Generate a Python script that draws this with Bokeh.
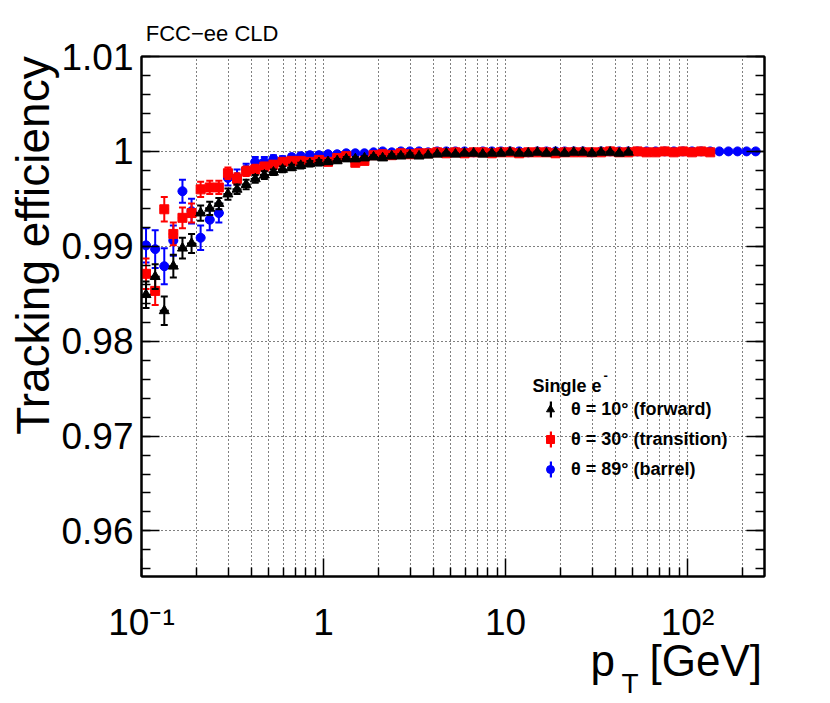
import math
import numpy as np
from bokeh.plotting import figure
from bokeh.models import (ColumnDataSource, Range1d, FixedTicker, LinearAxis, LogAxis,
                          Label, Legend, LegendItem)
from bokeh.embed import file_html
from bokeh.resources import INLINE

# ---------------- data ----------------
pt_bins = [0.1059, 0.1189, 0.1334, 0.1496, 0.1679, 0.1884, 0.2113, 0.2371, 0.2661, 0.2985,
           0.3350, 0.3758, 0.4217, 0.4732, 0.5309, 0.5957, 0.6683, 0.7499, 0.8414, 0.9441,
           1.059, 1.189, 1.334, 1.496, 1.679, 1.884, 2.113, 2.371, 2.661, 2.985,
           3.350, 3.758, 4.217, 4.732, 5.309, 5.957, 6.683, 7.499, 8.414, 9.441,
           10.59, 11.89, 13.34, 14.96, 16.79, 18.84, 21.13, 23.71, 26.61, 29.85,
           33.50, 37.58, 42.17, 47.32, 53.09, 59.57, 66.83, 74.99, 84.14, 94.41,
           105.9, 118.9, 133.4, 149.6, 167.9, 188.4, 211.3, 237.1]

eff_forward = [0.9849, 0.9868, 0.9832, 0.9879, 0.9898, 0.9903, 0.9935, 0.9940, 0.9945, 0.9955,
               0.9960, 0.9965, 0.9971, 0.9975, 0.9978, 0.9981, 0.9983, 0.9985, 0.9987, 0.9988,
               0.9989, 0.9990, 0.9992, 0.9992, 0.9993, 0.9994, 0.9993, 0.9995, 0.9995, 0.9996,
               0.9995, 0.9996, 0.9997, 0.9998, 0.9997, 0.9998, 0.9998, 0.9997, 0.9998, 0.9998,
               0.9999, 0.9998, 0.9998, 0.9999, 0.9998, 0.9999, 0.9998, 0.9999, 0.9999, 0.9998,
               0.9999, 0.9999, 0.9998, 0.9999]
err_forward = [0.0014, 0.0013, 0.0015, 0.0012, 0.0011, 0.0010, 0.0008, 0.0007, 0.0006, 0.0006,
               0.0005, 0.0005, 0.0004, 0.0004, 0.0003, 0.0003, 0.0003, 0.0003, 0.0003, 0.0003,
               0.0002, 0.0002, 0.0002, 0.0002, 0.0002, 0.0002, 0.0002, 0.0002, 0.0002, 0.0002,
               0.0001, 0.0001, 0.0001, 0.0001, 0.0001, 0.0001, 0.0001, 0.0001, 0.0001, 0.0001,
               0.0001, 0.0001, 0.0001, 0.0001, 0.0001, 0.0001, 0.0001, 0.0001, 0.0001, 0.0001,
               0.0001, 0.0001, 0.0001, 0.0001]

eff_transition = [0.9871, 0.9853, 0.9939, 0.9913, 0.9930, 0.9935, 0.9960, 0.9962, 0.9962, 0.9977,
                  0.9971, 0.9979, 0.9981, 0.9984, 0.9986, 0.9989, 0.9990, 0.9990, 0.9989, 0.9991,
                  0.9989, 0.9993, 0.9995, 0.9988, 0.9990, 0.9996, 0.9997, 0.9996, 0.9998, 0.9997,
                  0.9998, 0.9998, 0.9999, 0.9998, 0.9999, 0.9998, 0.9999, 0.9999, 0.9998, 0.9999,
                  0.9999, 0.9998, 0.9999, 0.9999, 0.9999, 0.9998, 0.9999, 0.9999, 0.9999, 0.9999,
                  0.9999, 1.0000, 0.9999, 0.9999, 1.0000, 0.9999, 0.9999, 1.0000, 0.9999, 1.0000,
                  0.9999, 1.0000, 0.9999]
err_transition = [0.0016, 0.0015, 0.0013, 0.0012, 0.0011, 0.0010, 0.0008, 0.0007, 0.0007, 0.0006,
                  0.0006, 0.0005, 0.0005, 0.0004, 0.0004, 0.0003, 0.0003, 0.0003, 0.0003, 0.0003,
                  0.0003, 0.0002, 0.0002, 0.0003, 0.0003, 0.0002, 0.0002, 0.0002, 0.0001, 0.0001,
                  0.0001, 0.0001, 0.0001, 0.0001, 0.0001, 0.0001, 0.0001, 0.0001, 0.0001, 0.0001,
                  0.0001, 0.0001, 0.0001, 0.0001, 0.0001, 0.0001, 0.0001, 0.0001, 0.0001, 0.0001,
                  0.0001, 0.0001, 0.0001, 0.0001, 0.0001, 0.0001, 0.0001, 0.0001, 0.0001, 0.0001,
                  0.0001, 0.0001, 0.0001]

eff_barrel = [0.9901, 0.9897, 0.9879, 0.9906, 0.9958, 0.9937, 0.9909, 0.9928, 0.9935, 0.9972,
              0.9973, 0.9981, 0.9989, 0.9989, 0.9992, 0.9991, 0.9994, 0.9995, 0.9996, 0.9996,
              0.9997, 0.9997, 0.9998, 0.9998, 0.9998, 0.9999, 1.0000, 0.9999, 1.0000, 1.0000,
              1.0000, 0.9999, 1.0000, 1.0000, 1.0000, 1.0000, 0.9999, 1.0000, 1.0000, 1.0000,
              1.0000, 1.0000, 0.9999, 1.0000, 1.0000, 1.0000, 1.0000, 1.0000, 1.0000, 0.9999,
              1.0000, 1.0000, 1.0000, 1.0000, 1.0000, 1.0000, 1.0000, 1.0000, 1.0000, 1.0000,
              1.0000, 1.0000, 1.0000, 1.0000, 1.0000, 1.0000, 1.0000, 1.0000]
err_barrel = [0.0018, 0.0020, 0.0019, 0.0016, 0.0012, 0.0013, 0.0013, 0.0011, 0.0010, 0.0008,
              0.0008, 0.0006, 0.0005, 0.0005, 0.0004, 0.0004, 0.0003, 0.0003, 0.0003, 0.0002,
              0.0002, 0.0002, 0.0002, 0.0002, 0.0002, 0.0001, 0.0001, 0.0001, 0.0001, 0.0001,
              0.0001, 0.0001, 0.0001, 0.0001, 0.0001, 0.0001, 0.0001, 0.0001, 0.0001, 0.0001,
              0.0001, 0.0001, 0.0001, 0.0001, 0.0001, 0.0001, 0.0001, 0.0001, 0.0001, 0.0001,
              0.0001, 0.0001, 0.0001, 0.0001, 0.0001, 0.0001, 0.0001, 0.0001, 0.0001, 0.0001,
              0.0001, 0.0001, 0.0001, 0.0001, 0.0001, 0.0001, 0.0001, 0.0001]

series_labels = ["θ = 10° (forward)", "θ = 30° (transition)", "θ = 89° (barrel)"]
x_tick_values = [0.1, 1, 10, 100]
x_tick_labels = ["10⁻¹", "1", "10", "10²"]
y_tick_values = [0.96, 0.97, 0.98, 0.99, 1.0, 1.01]
y_tick_labels = ["0.96", "0.97", "0.98", "0.99", "1", "1.01"]

FONT = "Liberation Sans"

# ---------------- layout geometry (page pixels) ----------------
W, H = 830, 703
FL, FR, FT, FB = 141, 764, 56, 576
XMIN, XMAX, YMIN, YMAX = 0.1, 265.0, 0.9552, 1.01


def px_to_x(px):
    return 10 ** (math.log10(XMIN) + (px - FL) / (FR - FL) * math.log10(XMAX / XMIN))


def py_to_y(py):
    return YMAX - (py - FT) / (FB - FT) * (YMAX - YMIN)


p = figure(width=W, height=H, x_axis_type="log",
           x_range=Range1d(XMIN, XMAX), y_range=Range1d(YMIN, YMAX),
           output_backend="svg", toolbar_location=None,
           min_border_left=FL, min_border_right=W - FR, min_border_top=FT,
           min_border_bottom=H - FB)
p.background_fill_color = "white"
p.border_fill_color = "white"
p.outline_line_color = "black"
p.outline_line_width = 2

x_minor = [m * 10.0 ** k for k in (-1, 0, 1, 2) for m in range(2, 10) if m * 10.0 ** k < XMAX]
y_minor = [round(0.956 + 0.002 * i, 3) for i in range(28)]

xt = FixedTicker(ticks=x_tick_values, minor_ticks=x_minor)
yt = FixedTicker(ticks=y_tick_values, minor_ticks=y_minor)


def style_axis(ax, major_len=18, minor_len=9):
    ax.major_tick_in = major_len
    ax.major_tick_out = 0
    ax.minor_tick_in = minor_len
    ax.minor_tick_out = 0
    ax.major_tick_line_color = "black"
    ax.minor_tick_line_color = "black"
    ax.major_tick_line_width = 1.5
    ax.minor_tick_line_width = 1.5
    ax.axis_line_color = "black"
    ax.axis_line_width = 2


def text_axis(kind, positions, texts, size, standoff, **kw):
    """An axis used only to carry text beside the frame."""
    ax = kind(ticker=FixedTicker(ticks=positions, minor_ticks=[]),
              major_label_overrides=dict(zip(positions, texts)),
              major_label_text_font=FONT, major_label_text_font_size=size,
              major_label_text_color="black", major_label_standoff=standoff,
              major_tick_in=0, major_tick_out=0, minor_tick_in=0, minor_tick_out=0,
              major_tick_line_color=None, minor_tick_line_color=None,
              axis_line_color=None, **kw)
    return ax


xax = p.xaxis[0]
xax.ticker = xt
style_axis(xax)
xax.major_label_overrides = {v: s for v, s in zip(x_tick_values, x_tick_labels)}
xax.major_label_text_font = FONT
xax.major_label_text_font_size = "37px"
xax.major_label_text_color = "black"
xax.major_label_standoff = 25

yax = p.yaxis[0]
yax.ticker = yt
style_axis(yax)
yax.major_label_overrides = {v: s for v, s in zip(y_tick_values, y_tick_labels)}
yax.major_label_text_font = FONT
yax.major_label_text_font_size = "37px"
yax.major_label_text_color = "black"
yax.major_label_standoff = 8

right_ax = LinearAxis(ticker=yt, major_label_text_alpha=0.0, major_label_text_font_size="8px",
                      major_label_standoff=0)
style_axis(right_ax)
p.add_layout(right_ax, "right")

# titles carried by text-only axes
p.add_layout(text_axis(LinearAxis, [py_to_y(245)], ["Tracking efficiency"], "46px", 0,
                       major_label_orientation="vertical"), "left")
p.add_layout(text_axis(LogAxis, [px_to_x(211.6)], ["FCC−ee CLD"], "22px", 11), "above")
p.add_layout(text_axis(LogAxis, [px_to_x(602.2), px_to_x(705.3)], ["p", "[GeV]"], "44px", -10),
             "below")
p.add_layout(text_axis(LogAxis, [px_to_x(629.6)], ["T"], "28px", -20), "below")

p.xgrid.ticker = FixedTicker(ticks=x_tick_values + x_minor)
p.ygrid.ticker = FixedTicker(ticks=y_tick_values)
for g in (p.xgrid[0], p.ygrid[0]):
    g.grid_line_color = "black"
    g.grid_line_width = 1
    g.grid_line_dash = "1 3"
    g.grid_line_alpha = 1.0


# ---------------- series ----------------
def make_source(eff, err):
    n = len(eff)
    xs = pt_bins[:n]
    # bin edges: geometric midpoints between neighbouring bin centres
    edges = [math.sqrt(pt_bins[0] ** 3 / pt_bins[1])]
    for i in range(1, n + 1):
        if i < len(pt_bins):
            edges.append(math.sqrt(pt_bins[i - 1] * pt_bins[i]))
        else:
            edges.append(math.sqrt(pt_bins[i - 1] ** 3 / pt_bins[i - 2]))
    return ColumnDataSource(dict(
        x=xs, y=eff,
        lo=[e - d for e, d in zip(eff, err)],
        hi=[min(e + d, 1.0) for e, d in zip(eff, err)],
        xl=edges[:n], xr=edges[1:n + 1],
        nan=np.full(n, np.nan)))


series = [
    (eff_barrel, err_barrel, "#0000ff", "circle", 9),
    (eff_transition, err_transition, "#ff0000", "square", 9),
    (eff_forward, err_forward, "#000000", "triangle", 10),
]
marker_renderers = {}
bar_renderers = {}
for eff, err, col, mk, sz in series:
    src = make_source(eff, err)
    p.segment(x0="x", y0="lo", x1="x", y1="hi", source=src, line_color=col, line_width=2)
    p.segment(x0="xl", y0="y", x1="xr", y1="y", source=src, line_color=col, line_width=2)
    p.scatter(x="x", y="hi", source=src, marker="dash", size=7, line_color=col, line_width=2)
    p.scatter(x="x", y="lo", source=src, marker="dash", size=7, line_color=col, line_width=2)
    r = p.scatter(x="x", y="y", source=src, marker=mk, size=sz, fill_color=col, line_color=col,
                  line_width=1)
    marker_renderers[col] = r
    # legend proxy for the vertical error line (its y column is empty, nothing drawn in the plot)
    b = p.quad(left="x", right="x", top="nan", bottom="nan", source=src,
               fill_color=col, line_color=None)
    bar_renderers[col] = b

legend_cols = ["#000000", "#ff0000", "#0000ff"]
legend_style = dict(padding=0, margin=0, spacing=0, label_height=30,
                    border_line_color=None, background_fill_alpha=0,
                    label_text_font=FONT, label_text_font_style="bold",
                    label_text_font_size="18px", label_text_color="black")
# thin vertical error-bar symbols of the legend
legend_bars = Legend(items=[LegendItem(label=" ", renderers=[bar_renderers[c]])
                            for c in legend_cols],
                     location=(407.5, 92), glyph_width=3, glyph_height=20, label_standoff=0,
                     **legend_style)
p.add_layout(legend_bars)
legend = Legend(items=[LegendItem(label=lab, renderers=[marker_renderers[c]])
                       for lab, c in zip(series_labels, legend_cols)],
                location=(399, 92), glyph_width=20, glyph_height=30, label_standoff=11,
                **legend_style)
p.add_layout(legend)


def add_label(text, px, py, size, style="normal"):
    p.add_layout(Label(x=px - FL, y=FB - py, x_units="screen", y_units="screen", text=text,
                       text_font=FONT, text_font_size=size, text_align="left",
                       text_baseline="alphabetic", text_color="black",
                       text_font_style=style))


add_label("Single e", 532, 385, "18px", style="bold")
add_label("-", 603, 375, "13px", style="bold")

open("out.html", "w").write(file_html(p, INLINE))
